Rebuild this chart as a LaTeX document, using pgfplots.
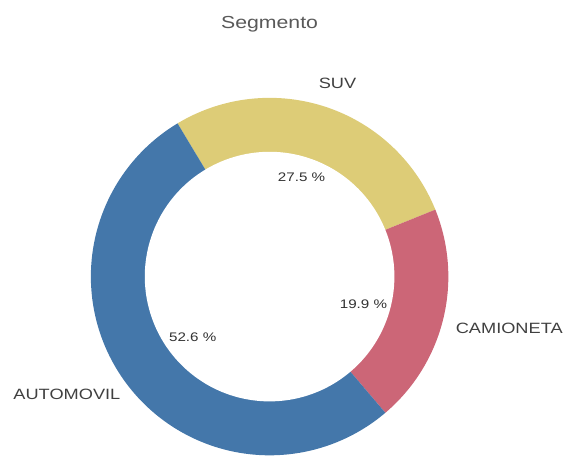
\documentclass[border=0pt]{standalone}
\usepackage{fontspec}
\setmainfont{Liberation Sans}[FakeStretch=1.22]
\usepackage{pgfplots}
\pgfplotsset{compat=1.18}
\definecolor{cA}{HTML}{4477AA}
\definecolor{cS}{HTML}{DDCC77}
\definecolor{cC}{HTML}{CC6677}
\definecolor{ttl}{HTML}{595959}
\definecolor{lbl}{HTML}{404040}
\definecolor{pct}{HTML}{333333}
\begin{document}
\begin{tikzpicture}
% segment shares (percent)
\def\vS{27.5}
\def\vC{19.9}
\def\vA{52.6}
\pgfmathsetmacro\aStart{121}
\pgfmathsetmacro\aS{\aStart-3.6*\vS}
\pgfmathsetmacro\aC{\aS-3.6*\vC}
\pgfmathsetmacro\aA{\aC-3.6*\vA}
\begin{axis}[
  scale only axis, width=566bp, height=459bp,
  xmin=0, xmax=566, ymin=0, ymax=459,
  hide axis, clip=false,
]
\path (rel axis cs:0,0) rectangle (rel axis cs:1,1);
\addplot[fill=cS, draw=none, domain=\aS:\aStart, samples=100] ({270+179*cos(x)},{182+179*sin(x)}) -- (axis cs:270,182) -- cycle;
\addplot[fill=cC, draw=none, domain=\aC:\aS, samples=100] ({270+179*cos(x)},{182+179*sin(x)}) -- (axis cs:270,182) -- cycle;
\addplot[fill=cA, draw=none, domain=\aA:\aC, samples=150] ({270+179*cos(x)},{182+179*sin(x)}) -- (axis cs:270,182) -- cycle;
\addplot[fill=white, draw=none, domain=0:360, samples=180] ({270+125*cos(x)},{182+125*sin(x)}) -- cycle;
\node[text=ttl, font=\fontsize{17.5}{20}\selectfont, anchor=base] at (axis cs:270,430) {Segmento};
\node[text=lbl, font=\fontsize{15}{17}\selectfont] at (axis cs:338,376) {SUV};
\node[text=lbl, font=\fontsize{15}{17}\selectfont] at (axis cs:510,130) {CAMIONETA};
\node[text=lbl, font=\fontsize{15}{17}\selectfont] at (axis cs:67,64) {AUTOMOVIL};
\node[text=pct, font=\fontsize{12.5}{15}\selectfont] at (axis cs:302,281.5) {27.5 \%};
\node[text=pct, font=\fontsize{12.5}{15}\selectfont] at (axis cs:364,154.5) {19.9 \%};
\node[text=pct, font=\fontsize{12.5}{15}\selectfont] at (axis cs:193,121.5) {52.6 \%};
\end{axis}
\end{tikzpicture}
\end{document}
